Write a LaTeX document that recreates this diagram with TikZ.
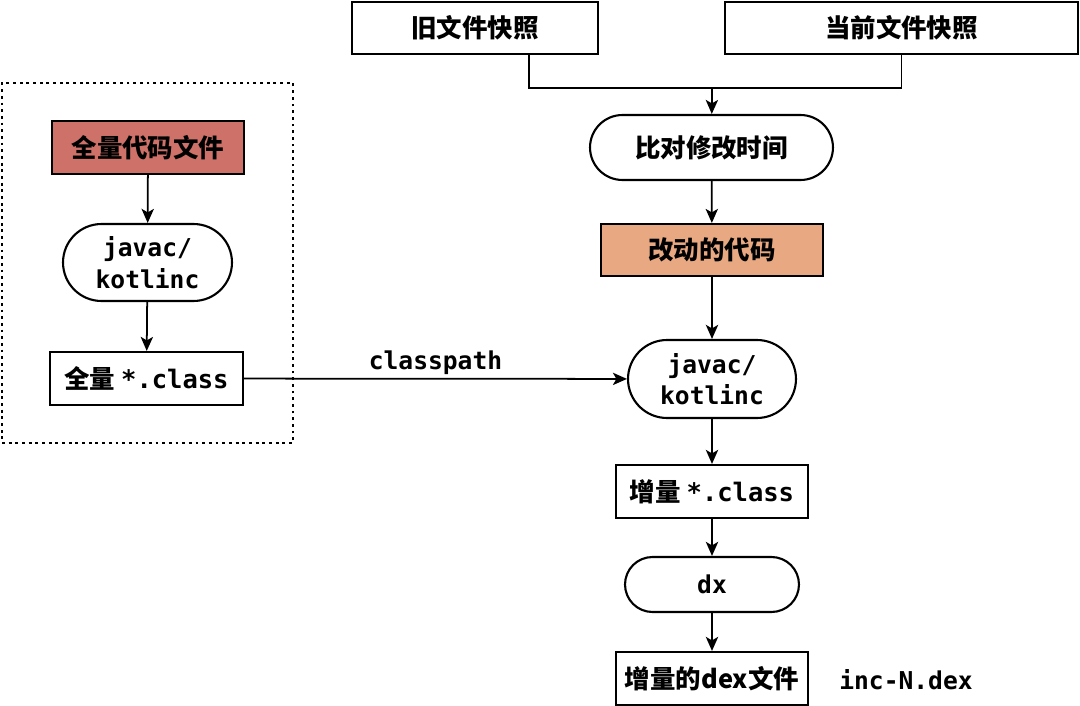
\documentclass[tikz,border=0pt]{standalone}
\usepackage{fontspec}
\setmainfont{Noto Sans CJK SC}
\setmonofont{DejaVu Sans Mono}
\usetikzlibrary{arrows.meta,shapes.misc}

\definecolor{fullred}{HTML}{CD7169}
\definecolor{changeorange}{HTML}{E8A882}

\begin{document}
\begin{tikzpicture}[
    x=0.02cm, y=-0.02cm,
    font=\bfseries\fontsize{14.5}{18}\selectfont,
    box/.style={rectangle, draw, line width=1.2pt, inner sep=0pt, align=center},
    pill/.style={rounded rectangle, draw, line width=1.2pt, inner sep=0pt, align=center},
    code/.style={font=\bfseries\ttfamily\fontsize{14}{18}\selectfont},
    arr/.style={-{Stealth[length=8pt,width=7pt,inset=2pt]}, line width=1pt}
]
\useasboundingbox (0,0) rectangle (1080,706);

% Full build (left)
\node[rectangle, draw, dash pattern=on 1.6pt off 2.2pt, line width=1pt, minimum width=5.82cm, minimum height=7.2cm] (group) at (147.5,263) {};
\node[box, fill=fullred, minimum width=3.84cm, minimum height=1.06cm] (codeall) at (148,147.5) {全量代码文件};
\node[pill, code, minimum width=3.38cm, minimum height=1.54cm] (javacL) at (147.5,262.5) {javac/\\kotlinc};
\node[box, minimum width=3.86cm, minimum height=1.06cm] (classall) at (146.5,378.5) {全量 \texttt{*.class}};

% Snapshots
\node[box, minimum width=4.92cm, minimum height=1.04cm] (oldsnap) at (475,28) {旧文件快照};
\node[box, minimum width=7.06cm, minimum height=1.04cm] (cursnap) at (901.5,28) {当前文件快照};
\coordinate (merge) at (712,88);

% Incremental build (right)
\node[pill, minimum width=4.86cm, minimum height=1.3cm] (compare) at (711.5,147.5) {比对修改时间};
\node[box, fill=changeorange, minimum width=4.44cm, minimum height=1.04cm] (changed) at (712,250) {改动的代码};
\node[pill, code, minimum width=3.36cm, minimum height=1.56cm] (javacR) at (712,379) {javac/\\kotlinc};
\node[box, minimum width=3.84cm, minimum height=1.06cm] (classinc) at (712,491.5) {增量 \texttt{*.class}};
\node[pill, code, minimum width=3.48cm, minimum height=1.1cm] (dx) at (712,584.5) {dx};
\node[box, minimum width=3.84cm, minimum height=1.06cm] (dexinc) at (712,678.5) {增量的dex文件};
\node[code] (incname) at (906,680) {inc-N.dex};

% Arrows
\draw[arr] (codeall) -- (javacL);
\draw[arr] (javacL) -- (classall);
\draw[arr] (classall) -- node[above=-1.5pt, code] {classpath} (javacR);
\draw[line width=1pt] ([xshift=1.08cm]oldsnap.south) |- (merge) -| (cursnap.south);
\draw[arr] (merge) -- (compare);
\draw[arr] (compare) -- (changed);
\draw[arr] (changed) -- (javacR);
\draw[arr] (javacR) -- (classinc);
\draw[arr] (classinc) -- (dx);
\draw[arr] (dx) -- (dexinc);

\end{tikzpicture}
\end{document}
